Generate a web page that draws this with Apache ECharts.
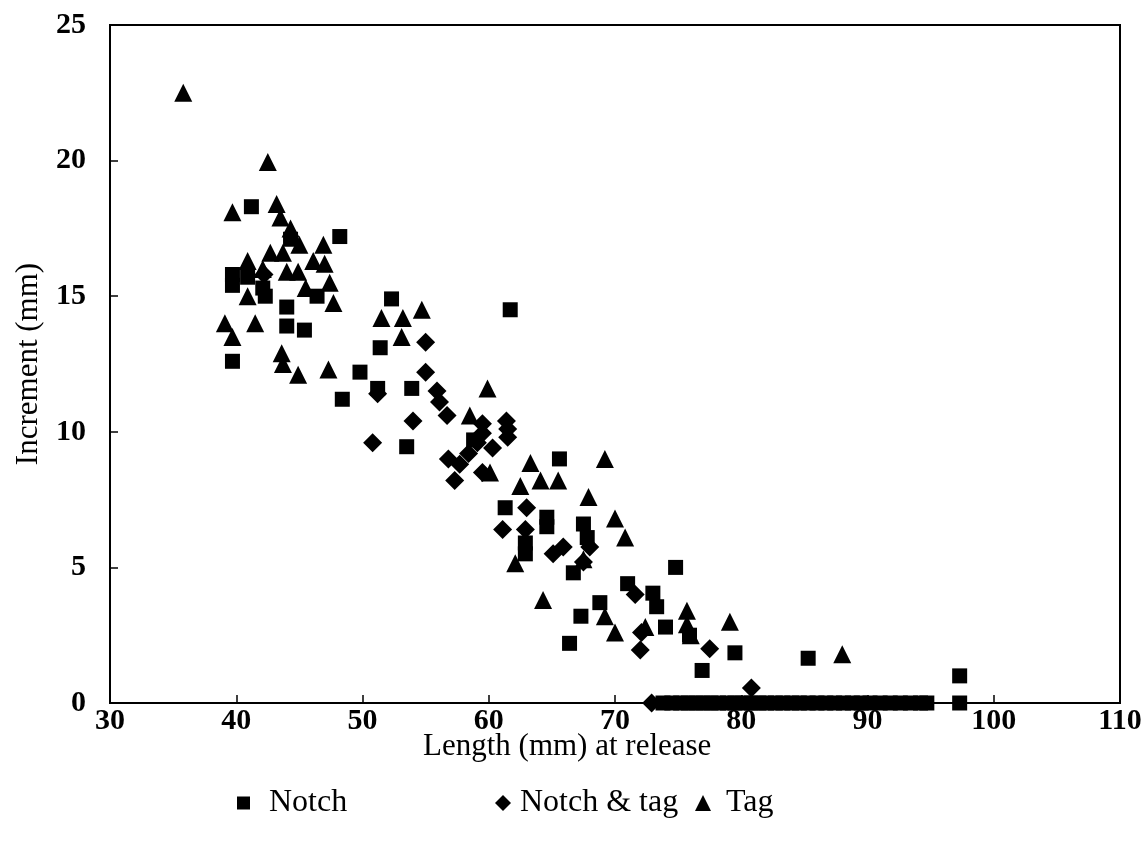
<!DOCTYPE html>
<html><head><meta charset="utf-8">
<script src="https://cdn.jsdelivr.net/npm/echarts@6/dist/echarts.min.js"></script>
<style>html,body{margin:0;padding:0;background:#fff}#c{width:1148px;height:845px}</style>
</head><body><div id="c"></div>
<script>
const xTicks = [30, 40, 50, 60, 70, 80, 90, 100, 110];
const yTicks = [0, 5, 10, 15, 20, 25];
const notch = [
  [41.2,18.3],[44.3,17.1],[48.2,17.2],[39.7,15.8],[39.7,15.4],[40.9,15.7],[42.1,15.3],[42.3,15.0],
  [46.4,15.0],[44.0,14.6],[44.0,13.9],[45.4,13.75],[39.7,12.6],[49.8,12.2],[48.4,11.2],[52.3,14.9],
  [51.4,13.1],[51.2,11.6],[53.9,11.6],[53.5,9.45],[61.7,14.5],[58.8,9.7],[65.6,9.0],[61.3,7.2],
  [64.6,6.85],[64.6,6.5],[67.5,6.6],[67.8,6.1],[62.9,5.9],[62.9,5.5],[66.7,4.8],[71.0,4.4],
  [74.8,5.0],[73.0,4.05],[73.3,3.55],[68.8,3.7],[74.0,2.8],[75.9,2.5],[66.4,2.2],[67.3,3.2],
  [79.5,1.85],[85.3,1.65],[76.9,1.2],[97.3,1.0],
  [73.8,0],[74.5,0],[75.2,0],[75.8,0],[76.4,0],[77.0,0],[77.6,0],[78.2,0],[78.9,0],[79.5,0],
  [80.1,0],[80.8,0],[81.4,0],[82.0,0],[82.7,0],[83.3,0],[84.0,0],[84.6,0],[85.3,0],[86.0,0],
  [86.7,0],[87.4,0],[88.1,0],[88.8,0],[89.5,0],[90.2,0],[91.0,0],[91.8,0],[92.6,0],[93.4,0],
  [94.2,0],[94.7,0],[97.3,0]
];
const notchTag = [
  [42.2,15.8],[55.0,13.3],[55.0,12.2],[51.2,11.4],[55.9,11.5],[56.1,11.1],[56.7,10.6],[54.0,10.4],
  [59.5,10.3],[61.4,10.4],[61.5,9.8],[59.5,9.95],[59.1,9.6],[50.8,9.6],[60.3,9.4],[56.8,9.0],
  [57.7,8.8],[58.4,9.2],[57.3,8.2],[59.5,8.5],[63.0,7.2],[61.1,6.4],[62.9,6.4],[65.9,5.75],
  [68.0,5.75],[65.1,5.5],[67.5,5.2],[71.6,4.0],[72.1,2.6],[72.0,1.95],[77.5,2.0],[80.8,0.55],
  [72.9,0],[61.5,10.1]
];
const tag = [
  [35.8,22.5],[42.5,19.95],[39.7,18.1],[43.2,18.4],[43.5,17.9],[44.3,17.5],[45.0,16.9],[46.9,16.9],
  [42.7,16.6],[43.7,16.6],[40.9,16.3],[42.1,16.0],[44.0,15.9],[44.9,15.9],[46.1,16.3],[47.0,16.2],
  [45.5,15.3],[47.4,15.5],[47.7,14.75],[40.9,15.0],[39.1,14.0],[41.5,14.0],[39.7,13.5],[43.6,12.9],
  [43.7,12.5],[44.9,12.1],[47.3,12.3],[51.5,14.2],[53.2,14.2],[54.7,14.5],[53.1,13.5],[58.5,10.6],
  [59.9,11.6],[60.1,8.5],[63.3,8.85],[62.5,8.0],[64.1,8.2],[65.5,8.2],[69.2,9.0],[67.9,7.6],
  [70.0,6.8],[70.8,6.1],[62.1,5.15],[64.3,3.8],[67.5,5.3],[69.2,3.2],[70.0,2.6],[72.4,2.8],
  [75.7,3.4],[75.7,2.9],[76.0,2.5],[79.1,3.0],[88.0,1.8]
];
const FONT = '"Liberation Serif", "DejaVu Serif", serif';
const chart = echarts.init(document.getElementById('c'));
const legendText = {fontFamily: FONT, fontSize: 32, color: '#000', padding: [0, 0, 0, 14]};
chart.setOption({
  animation: false,
  backgroundColor: '#fff',
  grid: {left: 110, top: 25, width: 1010, height: 678, show: true, borderColor: '#000', borderWidth: 2, backgroundColor: 'transparent'},
  title: {text: 'Length (mm) at release', left: 418, top: 726, textStyle: {fontFamily: FONT, fontSize: 31, fontWeight: 'normal', color: '#000'}},
  legend: [
    {data: ['Notch'], left: 232, top: 782, itemWidth: 13, itemHeight: 13, textStyle: legendText},
    {data: ['Notch & tag'], left: 490, top: 782, itemWidth: 16, itemHeight: 16, textStyle: Object.assign({}, legendText, {padding: [0,0,0,4]})},
    {data: ['Tag'], left: 690, top: 782, itemWidth: 16, itemHeight: 16, textStyle: Object.assign({}, legendText, {padding: [0,0,0,10]})}
  ],
  xAxis: {
    type: 'value', min: xTicks[0], max: xTicks[xTicks.length-1], interval: 10,
    axisLine: {show: true, lineStyle: {color: '#000', width: 2}},
    axisTick: {show: true, inside: true, length: 8, lineStyle: {color: '#000', width: 1.5}},
    axisLabel: {fontFamily: FONT, fontSize: 30, fontWeight: 'bold', color: '#000', margin: 3},
    splitLine: {show: false}
  },
  yAxis: {
    type: 'value', min: yTicks[0], max: yTicks[yTicks.length-1], interval: 5,
    name: 'Increment (mm)', nameLocation: 'middle', nameGap: 66,
    nameTextStyle: {fontFamily: FONT, fontSize: 31, color: '#000'},
    axisLine: {show: true, lineStyle: {color: '#000', width: 2}},
    axisTick: {show: true, inside: true, length: 8, lineStyle: {color: '#000', width: 1.5}},
    axisLabel: {fontFamily: FONT, fontSize: 30, fontWeight: 'bold', color: '#000', margin: 24},
    splitLine: {show: false}
  },
  series: [
    {name: 'Notch', type: 'scatter', symbol: 'rect', symbolSize: 15, clip: false, itemStyle: {color: '#000', opacity: 1}, data: notch},
    {name: 'Notch & tag', type: 'scatter', symbol: 'diamond', symbolSize: 19, clip: false, itemStyle: {color: '#000', opacity: 1}, data: notchTag},
    {name: 'Tag', type: 'scatter', symbol: 'triangle', symbolSize: 18, clip: false, itemStyle: {color: '#000', opacity: 1}, data: tag}
  ]
});
</script>
</body></html>
